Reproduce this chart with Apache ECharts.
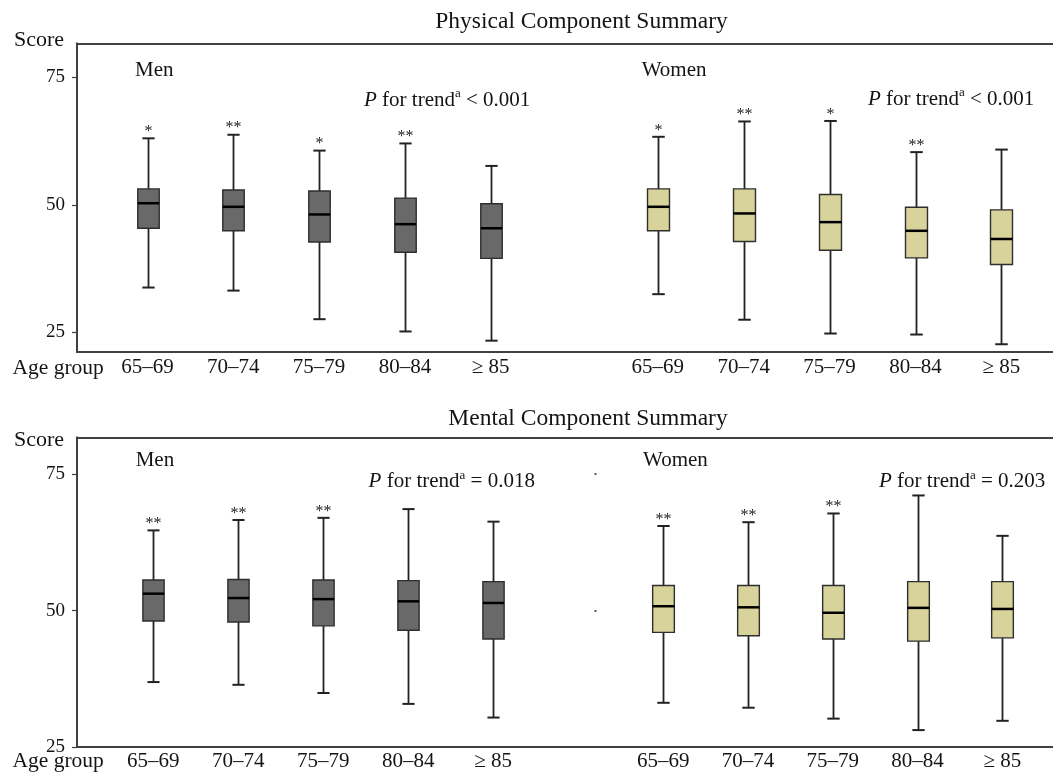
<!DOCTYPE html>
<html><head><meta charset="utf-8">
<script src="https://cdn.jsdelivr.net/npm/echarts@6/dist/echarts.min.js"></script>
<style>html,body{margin:0;padding:0;background:#fff}#c{width:1053px;height:773px}</style>
</head><body><div id="c"></div>
<script>
const ageGroups = ['65–69', '70–74', '75–79', '80–84', '≥ 85'];
const yTicks = [25, 50, 75];
// each item: [min, Q1, median, Q3, max]
const pcsMen = [[33.8, 45.4, 50.3, 53.1, 63.0], [33.2, 44.9, 49.6, 52.9, 63.7], [27.6, 42.7, 48.1, 52.7, 60.6], [25.2, 40.7, 46.2, 51.3, 62.0], [23.4, 39.5, 45.4, 50.2, 57.6]];
const pcsWomen = [[32.5, 44.9, 49.6, 53.1, 63.3], [27.5, 42.8, 48.3, 53.1, 66.3], [24.8, 41.1, 46.6, 52.0, 66.4], [24.6, 39.6, 44.9, 49.5, 60.3], [22.7, 38.3, 43.3, 49.0, 60.8]];
const mcsMen = [[36.9, 48.1, 53.1, 55.6, 64.7], [36.4, 47.9, 52.3, 55.7, 66.6], [34.9, 47.2, 52.1, 55.6, 67.0], [32.9, 46.4, 51.7, 55.5, 68.6], [30.4, 44.8, 51.4, 55.3, 66.3]];
const mcsWomen = [[33.1, 46.0, 50.8, 54.6, 65.5], [32.2, 45.4, 50.6, 54.6, 66.2], [30.2, 44.8, 49.6, 54.6, 67.8], [28.1, 44.4, 50.5, 55.3, 71.1], [29.8, 45.0, 50.3, 55.3, 63.7]];
const pcsMenStars = ['*', '**', '*', '**', ''];
const pcsWomenStars = ['*', '**', '*', '**', ''];
const mcsMenStars = ['**', '**', '**', '', ''];
const mcsWomenStars = ['**', '**', '**', '', ''];
const pcsRange = [21.24, 81.6];
const mcsRange = [25, 81.76];

const SERIF = '"Liberation Serif", "Times New Roman", serif';
const INK = '#141414';
const FRAME = '#404040';

function boxRender(fill, stars, ratio) {
  return function (params, api) {
    const i = api.value(0);
    const lo = api.coord([i, api.value(1)]);
    const q1 = api.coord([i, api.value(2)]);
    const md = api.coord([i, api.value(3)]);
    const q3 = api.coord([i, api.value(4)]);
    const hi = api.coord([i, api.value(5)]);
    const band = api.size([1, 0])[0];
    const hw = band * ratio / 2, cw = hw * 0.57, x = Math.round(md[0]) + 0.5;
    const ws = { stroke: '#222', lineWidth: 1.8 };
    const cs = { stroke: '#222', lineWidth: 2 };
    const children = [
      { type: 'line', shape: { x1: x, y1: hi[1], x2: x, y2: q3[1] }, style: ws },
      { type: 'line', shape: { x1: x, y1: q1[1], x2: x, y2: lo[1] }, style: ws },
      { type: 'line', shape: { x1: x - cw, y1: hi[1], x2: x + cw, y2: hi[1] }, style: cs },
      { type: 'line', shape: { x1: x - cw, y1: lo[1], x2: x + cw, y2: lo[1] }, style: cs },
      { type: 'rect', shape: { x: x - hw, y: q3[1], width: 2 * hw, height: q1[1] - q3[1] }, style: { fill: fill, stroke: '#2e2e2e', lineWidth: 1.4 } },
      { type: 'line', shape: { x1: x - hw, y1: md[1], x2: x + hw, y2: md[1] }, style: { stroke: '#000', lineWidth: 2.5 } }
    ];
    const s = stars[params.dataIndex];
    if (s) {
      children.push({ type: 'text', style: { text: s, x: x, y: hi[1] - 6.5, align: 'center', verticalAlign: 'middle', textAlign: 'center', textVerticalAlign: 'middle', font: '16px ' + SERIF, fill: '#222' } });
    }
    return { type: 'group', children: children };
  };
}

function toData(arr) { return arr.map((v, i) => [i].concat(v)); }

function catAxis(grid, margin) {
  return {
    type: 'category', gridIndex: grid, data: ageGroups,
    axisLine: { show: false }, axisTick: { show: false }, splitLine: { show: false },
    axisLabel: { fontFamily: SERIF, fontSize: 21, color: INK, margin: margin }
  };
}
function frameX(grid, pos) {
  return {
    type: 'value', gridIndex: grid, min: 0, max: 1, position: pos,
    axisLine: { show: true, onZero: false, lineStyle: { color: FRAME, width: 2 } },
    axisTick: { show: false }, axisLabel: { show: false }, splitLine: { show: false }
  };
}
function frameY(grid, range) {
  return {
    type: 'value', gridIndex: grid, min: range[0], max: range[1],
    axisLine: { show: true, onZero: false, lineStyle: { color: FRAME, width: 2 } },
    axisTick: { show: true, length: 5, customValues: yTicks, lineStyle: { color: FRAME, width: 1.2 } },
    axisLabel: { customValues: yTicks, fontFamily: SERIF, fontSize: 19, color: INK, margin: 12 },
    splitLine: { show: false }
  };
}
function hiddenY(grid, range) {
  return { type: 'value', gridIndex: grid, min: range[0], max: range[1], show: false };
}

function txt(text, x, y, size, extra) {
  return Object.assign({ type: 'text', x: x, y: y, style: { text: text, font: size + 'px ' + SERIF, fill: INK, textVerticalAlign: 'middle', verticalAlign: 'middle' } }, extra || {});
}
function trend(text, x, y) {
  return {
    type: 'text', x: x, y: y,
    style: {
      text: '{i|P} for trend{s|a} ' + text,
      font: '21px ' + SERIF, fill: INK, textVerticalAlign: 'middle', verticalAlign: 'middle',
      rich: {
        i: { fontFamily: SERIF, fontSize: 21, fontStyle: 'italic', lineHeight: 26 },
        s: { fontFamily: SERIF, fontSize: 13, lineHeight: 13, verticalAlign: 'top' }
      },
      lineHeight: 26
    }
  };
}

const option = {
  backgroundColor: '#fff',
  animation: false,
  grid: [
    { left: 77, top: 43.3, width: 990, height: 308.4 },
    { left: 104.6, top: 43.3, width: 429, height: 308.4 },
    { left: 614.85, top: 43.3, width: 429.5, height: 308.4 },
    { left: 77, top: 437.3, width: 990, height: 309.7 },
    { left: 110.7, top: 437.3, width: 425, height: 309.7 },
    { left: 620.9, top: 437.3, width: 423.8, height: 309.7 }
  ],
  xAxis: [
    frameX(0, 'bottom'), frameX(0, 'top'), catAxis(1, 5), catAxis(2, 5),
    frameX(3, 'bottom'), frameX(3, 'top'), catAxis(4, 4), catAxis(5, 4)
  ],
  yAxis: [
    frameY(0, pcsRange), hiddenY(1, pcsRange), hiddenY(2, pcsRange),
    frameY(3, mcsRange), hiddenY(4, mcsRange),
    {
      type: 'value', gridIndex: 5, min: mcsRange[0], max: mcsRange[1], offset: 24.4,
      axisLine: { show: false }, axisLabel: { show: false }, splitLine: { show: false },
      axisTick: { show: true, length: 2, customValues: [50, 75], lineStyle: { color: '#555', width: 2 } }
    }
  ],
  series: [
    { type: 'custom', xAxisIndex: 2, yAxisIndex: 1, data: toData(pcsMen), encode: { x: 0, y: [1, 2, 3, 4, 5] }, renderItem: boxRender('#696969', pcsMenStars, 0.25), silent: true, clip: false },
    { type: 'custom', xAxisIndex: 3, yAxisIndex: 2, data: toData(pcsWomen), encode: { x: 0, y: [1, 2, 3, 4, 5] }, renderItem: boxRender('#d8d39b', pcsWomenStars, 0.256), silent: true, clip: false },
    { type: 'custom', xAxisIndex: 6, yAxisIndex: 4, data: toData(mcsMen), encode: { x: 0, y: [1, 2, 3, 4, 5] }, renderItem: boxRender('#696969', mcsMenStars, 0.25), silent: true, clip: false },
    { type: 'custom', xAxisIndex: 7, yAxisIndex: 5, data: toData(mcsWomen), encode: { x: 0, y: [1, 2, 3, 4, 5] }, renderItem: boxRender('#d8d39b', mcsWomenStars, 0.256), silent: true, clip: false }
  ],
  graphic: [
    txt('Physical Component Summary', 581.5, 21.7, 23.5, { style: { text: 'Physical Component Summary', font: '23.5px ' + SERIF, fill: INK, textAlign: 'center', align: 'center', textVerticalAlign: 'middle', verticalAlign: 'middle' } }),
    txt('Mental Component Summary', 588, 419, 23.5, { style: { text: 'Mental Component Summary', font: '23.5px ' + SERIF, fill: INK, textAlign: 'center', align: 'center', textVerticalAlign: 'middle', verticalAlign: 'middle' } }),
    txt('Score', 14, 40, 22),
    txt('Score', 14, 440.7, 22),
    txt('Age group', 12.5, 368, 21.5),
    txt('Age group', 12.5, 761.7, 21.5),
    txt('Men', 135, 70, 21),
    txt('Women', 641.7, 70, 21),
    txt('Men', 135.7, 460.7, 21),
    txt('Women', 643, 460.7, 21),
    trend('< 0.001', 364, 100),
    trend('< 0.001', 868, 99.3),
    trend('= 0.018', 368.6, 481.7),
    trend('= 0.203', 879, 481.7)
  ]
};
const chart = echarts.init(document.getElementById('c'), null, { renderer: 'canvas' });
chart.setOption(option);
</script>
</body></html>
